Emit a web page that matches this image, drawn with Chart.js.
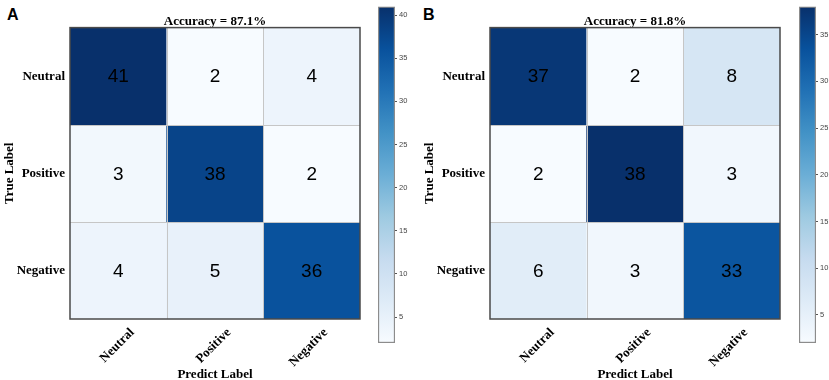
<!DOCTYPE html>
<html>
<head>
<meta charset="utf-8">
<script src="https://cdn.jsdelivr.net/npm/chart.js@4.4.1/dist/chart.umd.min.js"></script>
<style>
  body { margin: 0; background: #fff; }
  #wrap { position: relative; width: 829px; height: 380px; overflow: hidden; }
  canvas { position: absolute; }
  .tag { position: absolute; font: bold 16px "Liberation Sans", Arial, sans-serif; color: #000; }
</style>
</head>
<body>
<div id="wrap">
  <div class="tag" style="left:7px;top:6px">A</div>
  <div class="tag" style="left:423px;top:6px">B</div>
  <canvas id="matA" width="370" height="380" style="left:0;top:0"></canvas>
  <canvas id="barA" width="50" height="380" style="left:370px;top:0"></canvas>
  <canvas id="matB" width="370" height="380" style="left:420px;top:0"></canvas>
  <canvas id="barB" width="39" height="380" style="left:790px;top:0"></canvas>
</div>
<script>
const classLabels = ["Neutral", "Positive", "Negative"];
const matrixA = [[41, 2, 4], [3, 38, 2], [4, 5, 36]];
const matrixB = [[37, 2, 8], [2, 38, 3], [6, 3, 33]];
const accuracyA = "87.1%";
const accuracyB = "81.8%";
const rangeA = [2, 41];
const rangeB = [2, 38];
const colorbarTicksA = [5, 10, 15, 20, 25, 30, 35, 40];
const colorbarTicksB = [5, 10, 15, 20, 25, 30, 35];

// matplotlib "Blues" anchors
const blues = ["#f7fbff", "#deebf7", "#c6dbef", "#9ecae1", "#6baed6", "#4292c6", "#2171b5", "#08519c", "#08306b"];

const serifBold = { family: "'Times New Roman', 'Liberation Serif', serif", size: 13, weight: "bold", lineHeight: 1.2 };

Chart.defaults.font.family = "'Liberation Sans', Arial, sans-serif";

function hexToRgb(h) {
  return [1, 3, 5].map(i => parseInt(h.slice(i, i + 2), 16));
}

function bluesColor(t) {
  t = Math.max(0, Math.min(1, t));
  const pos = t * (blues.length - 1);
  const i = Math.min(Math.floor(pos), blues.length - 2);
  const f = pos - i;
  const a = hexToRgb(blues[i]);
  const b = hexToRgb(blues[i + 1]);
  const c = a.map((v, k) => Math.round(v + (b[k] - v) * f));
  return `rgb(${c[0]},${c[1]},${c[2]})`;
}

const cellText = {
  id: "cellText",
  afterDatasetsDraw(chart) {
    const { ctx, chartArea: a, scales: { x, y } } = chart;
    ctx.save();

    // light lines between cells
    ctx.strokeStyle = "#c6c6c6";
    ctx.lineWidth = 1;
    for (let i = 1; i < classLabels.length; i++) {
      const px = Math.round((x.getPixelForValue(i - 1) + x.getPixelForValue(i)) / 2) + 0.5;
      const py = Math.round(y.getPixelForValue(i)) + 0.5;
      ctx.beginPath();
      ctx.moveTo(px, a.top);
      ctx.lineTo(px, a.bottom);
      ctx.moveTo(a.left, py);
      ctx.lineTo(a.right, py);
      ctx.stroke();
    }

    // frame
    ctx.strokeStyle = "#4a4a4a";
    ctx.lineWidth = 1.5;
    ctx.strokeRect(a.left, a.top, a.width, a.height);

    // counts
    ctx.font = "19px 'Liberation Sans', Arial, sans-serif";
    ctx.fillStyle = "#000";
    ctx.textAlign = "center";
    ctx.textBaseline = "middle";
    chart.data.datasets.forEach((ds, r) => {
      chart.getDatasetMeta(r).data.forEach((bar, c) => {
        ctx.fillText(String(ds.counts[c]), bar.x, (bar.y + bar.base) / 2 + 1);
      });
    });
    ctx.restore();
  }
};

function makeMatrix(id, matrix, range, accuracy) {
  return new Chart(document.getElementById(id), {
    type: "bar",
    data: {
      labels: classLabels,
      datasets: matrix.map((row, r) => ({
        data: row.map(() => [r, r + 1]),
        counts: row,
        backgroundColor: row.map(v => bluesColor((v - range[0]) / (range[1] - range[0]))),
        borderWidth: 0,
        barPercentage: 1,
        categoryPercentage: 1,
        grouped: false
      }))
    },
    options: {
      responsive: false,
      animation: false,
      devicePixelRatio: 1,
      layout: { padding: { left: 0, right: 10, top: 0, bottom: 0 } },
      plugins: {
        legend: { display: false },
        tooltip: { enabled: false },
        title: {
          display: true,
          text: "Accuracy = " + accuracy,
          fullSize: false,
          color: "#000",
          font: serifBold,
          padding: { top: 14, bottom: -2 }
        }
      },
      scales: {
        x: {
          grid: { display: false, drawTicks: false },
          border: { display: false },
          ticks: { maxRotation: 45, minRotation: 45, labelOffset: 14, padding: 6, color: "#000", font: serifBold },
          title: { display: true, text: "Predict Label", color: "#000", font: serifBold, padding: { top: 0, bottom: -2 } },
          afterFit: s => { s.height = 61; }
        },
        y: {
          type: "linear",
          min: 0,
          max: classLabels.length,
          reverse: true,
          grid: { display: false, drawTicks: false },
          border: { display: false },
          afterBuildTicks: s => { s.ticks = classLabels.map((_, i) => ({ value: i + 0.5 })); },
          ticks: { callback: v => classLabels[Math.floor(v)], padding: 5, color: "#000", font: serifBold },
          title: { display: true, text: "True Label", color: "#000", font: serifBold, padding: { top: 2, bottom: 0 } },
          afterFit: s => { s.width = 70; }
        }
      }
    },
    plugins: [cellText]
  });
}

function makeColorbar(id, range, ticks, padLeft, axisWidth) {
  return new Chart(document.getElementById(id), {
    type: "bar",
    data: {
      labels: [""],
      datasets: [{
        data: [range],
        backgroundColor: ctx => {
          const area = ctx.chart.chartArea;
          if (!area) return blues[0];
          const g = ctx.chart.ctx.createLinearGradient(0, area.bottom, 0, area.top);
          blues.forEach((c, i) => g.addColorStop(i / (blues.length - 1), c));
          return g;
        },
        borderColor: "#8c8c8c",
        borderWidth: 1.5,
        borderSkipped: false,
        barPercentage: 1,
        categoryPercentage: 1
      }]
    },
    options: {
      responsive: false,
      animation: false,
      devicePixelRatio: 1,
      layout: { padding: { left: padLeft, right: 0, top: 3, bottom: 37 } },
      plugins: { legend: { display: false }, tooltip: { enabled: false } },
      scales: {
        x: { display: false },
        y: {
          position: "right",
          min: range[0],
          max: range[1],
          afterBuildTicks: s => { s.ticks = ticks.map(v => ({ value: v })); },
          grid: { drawOnChartArea: false, tickLength: 2, color: "#555" },
          border: { display: false },
          ticks: { font: { size: 7.5 }, color: "#444", padding: 2 },
          afterFit: s => { s.width = axisWidth; }
        }
      }
    }
  });
}

makeMatrix("matA", matrixA, rangeA, accuracyA);
makeMatrix("matB", matrixB, rangeB, accuracyB);
makeColorbar("barA", rangeA, colorbarTicksA, 8, 25);
makeColorbar("barB", rangeB, colorbarTicksB, 9, 13);
</script>
</body>
</html>
